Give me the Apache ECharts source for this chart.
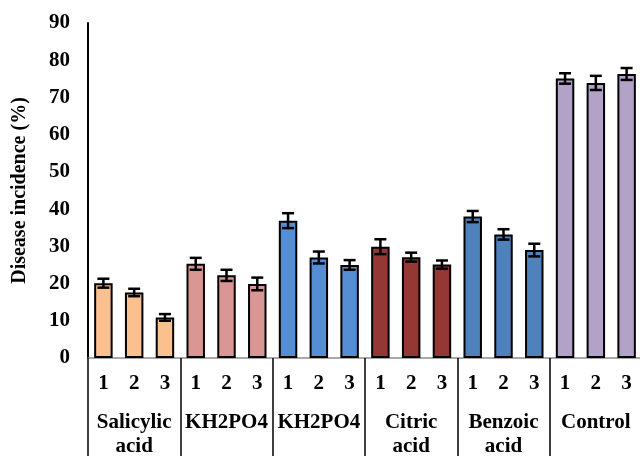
<!DOCTYPE html>
<html>
<head>
<meta charset="utf-8">
<script src="https://cdn.jsdelivr.net/npm/echarts@6/dist/echarts.min.js"></script>
<style>
  html, body { margin: 0; padding: 0; background: #fff; }
  #chart { width: 640px; height: 456px; }
</style>
</head>
<body>
<div id="chart"></div>
<script>
// Treatment groups and the three replicates within each
const groups = ['Salicylic\nacid', 'KH2PO4', 'KH2PO4', 'Citric\nacid', 'Benzoic\nacid', 'Control'];
const replicates = ['1', '2', '3'];
const groupColors = ['#FAC090', '#D99694', '#558ED5', '#953735', '#4F81BD', '#B3A2C7'];

// Disease incidence (%) for each bar, in group order
const values = [
  20.1, 17.6, 10.9,
  25.3, 22.2, 19.9,
  36.9, 27.0, 25.0,
  29.9, 27.1, 25.1,
  38.0, 33.2, 29.0,
  75.1, 73.9, 76.3
];
// Standard error for each bar
const errors = [
  1.2, 1.0, 0.9,
  1.6, 1.5, 1.7,
  2.0, 1.6, 1.3,
  2.0, 1.2, 1.1,
  1.5, 1.4, 1.7,
  1.4, 1.9, 1.6
];
const yTicks = { min: 0, max: 90, interval: 10 };

const categories = [];
groups.forEach((g, gi) => replicates.forEach(r => categories.push(gi + '-' + r)));

const font = '"Liberation Serif", "Times New Roman", serif';

const chart = echarts.init(document.getElementById('chart'));
chart.setOption({
  animation: false,
  grid: { left: 88, top: 23, width: 554, height: 335, containLabel: false, outerBoundsMode: 'none' },
  xAxis: [
    {
      type: 'category',
      data: categories,
      position: 'bottom',
      axisLine: { show: true, lineStyle: { color: '#8c8c8c', width: 1.5 } },
      axisTick: { show: false },
      axisLabel: {
        interval: 0,
        margin: 15,
        formatter: v => v.split('-')[1],
        fontFamily: font, fontWeight: 'bold', fontSize: 21, color: '#000'
      }
    },
    {
      type: 'category',
      data: groups,
      position: 'bottom',
      boundaryGap: true,
      axisLine: { show: false },
      axisTick: { show: true, inside: false, length: 100, interval: 0, lineStyle: { color: '#000', width: 1.5 } },
      axisLabel: {
        interval: 0,
        margin: 53,
        lineHeight: 24,
        fontFamily: font, fontWeight: 'bold', fontSize: 21, color: '#000'
      }
    }
  ],
  yAxis: {
    type: 'value',
    min: yTicks.min, max: yTicks.max, interval: yTicks.interval,
    name: 'Disease incidence (%)',
    nameLocation: 'middle',
    nameGap: 58,
    nameTextStyle: { fontFamily: font, fontWeight: 'bold', fontSize: 20, color: '#000' },
    axisLine: { show: true, lineStyle: { color: '#000', width: 2 } },
    axisTick: { show: false },
    splitLine: { show: false },
    axisLabel: { margin: 18, fontFamily: font, fontWeight: 'bold', fontSize: 21, color: '#000' }
  },
  series: [
    {
      type: 'bar',
      xAxisIndex: 0,
      barWidth: '60%',
      data: values.map((v, i) => ({
        value: v,
        itemStyle: { color: groupColors[Math.floor(i / 3)] }
      })),
      itemStyle: { borderColor: '#000', borderWidth: 2 }
    },
    {
      type: 'custom',
      xAxisIndex: 0,
      z: 10,
      data: values.map((v, i) => [i, v, errors[i]]),
      renderItem: (params, api) => {
        const x = api.value(0);
        const v = api.value(1);
        const e = api.value(2);
        const hi = api.coord([x, v + e]);
        const lo = api.coord([x, v - e]);
        const half = 6;
        const style = { stroke: '#000', lineWidth: 2.5 };
        return {
          type: 'group',
          children: [
            { type: 'line', shape: { x1: hi[0], y1: hi[1], x2: lo[0], y2: lo[1] }, style },
            { type: 'line', shape: { x1: hi[0] - half, y1: hi[1], x2: hi[0] + half, y2: hi[1] }, style },
            { type: 'line', shape: { x1: lo[0] - half, y1: lo[1], x2: lo[0] + half, y2: lo[1] }, style }
          ]
        };
      }
    }
  ]
});
</script>
</body>
</html>
